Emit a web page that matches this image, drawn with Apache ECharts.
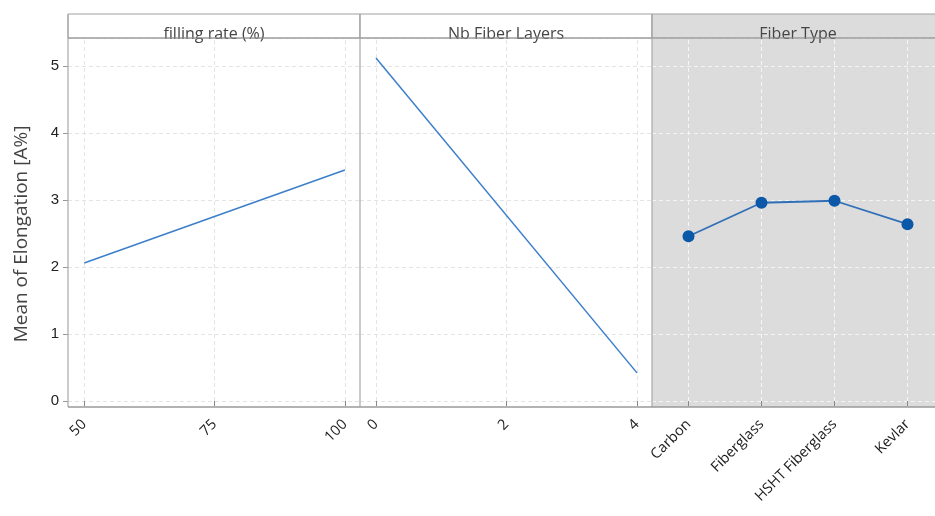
<!DOCTYPE html>
<html><head><meta charset="utf-8">
<script src="https://cdn.jsdelivr.net/npm/echarts@6/dist/echarts.min.js"></script>
<style>html,body{margin:0;padding:0;background:#fff}#c{width:935px;height:516px}</style>
</head><body><div id="c"></div>
<script>
const panelTitles = ['filling rate (%)', 'Nb Fiber Layers', 'Fiber Type'];
const fillingRate = [50, 100];
const fillingMean = [2.06, 3.45];
const fillingTicks = [50, 75, 100];
const layers = [0, 4];
const layersMean = [5.12, 0.42];
const layerTicks = [0, 2, 4];
const fiberTypes = ['Carbon', 'Fiberglass', 'HSHT Fiberglass', 'Kevlar'];
const fiberMean = [2.46, 2.96, 2.99, 2.64];
const yTitle = 'Mean of Elongation [A%]';

const fiberIdx = fiberTypes.map((_, k) => k);

const chart = echarts.init(document.getElementById('c'));
const TOP = 38, AXY = 407, PW = 292;
const lefts = [68, 360, 652];
const font = '"Open Sans","Noto Sans",sans-serif';
const lineColor = '#3c7fc9';
const ptColor = '#0b57a8';

function yAx(i) {
  return {
    type: 'value', gridIndex: i, min: 0, max: 5.42, interval: 1,
    axisLine: {show: false},
    axisTick: {show: i === 0, length: 5, lineStyle: {color: '#999'}},
    axisLabel: {show: i === 0, color: '#222', fontSize: 15, margin: 9, fontFamily: 'Liberation Sans, Arial',
      showMaxLabel: false, formatter: v => Number.isInteger(v) ? String(v) : ''},
    splitLine: {show: true, lineStyle: {color: i === 2 ? '#f4f4f4' : '#e4e4e4', type: [4, 3], width: 1}}
  };
}
const xLabel = {rotate: 45, color: '#1a1a1a', fontSize: 14.5, fontFamily: font, margin: 15};
function xVal(i, min, max, ticks, fmt) {
  return {
    type: 'value', gridIndex: i, min: min, max: max,
    axisLine: {show: false}, offset: 6,
    axisTick: {show: true, length: 5, lineStyle: {color: '#888'}, customValues: ticks},
    axisLabel: Object.assign({customValues: ticks}, xLabel, fmt ? {formatter: fmt} : {}),
    splitLine: {show: false}
  };
}

const grids = [
  {left: lefts[0], top: TOP, width: PW, height: 401 - TOP},
  {left: lefts[1], top: TOP, width: PW, height: 401 - TOP},
  {left: lefts[2], top: TOP, width: 935 - lefts[2], height: 401 - TOP}
];

const graphics = [];
graphics.push({type: 'rect', z: -10, shape: {x: lefts[2], y: TOP, width: 300, height: AXY - TOP}, style: {fill: '#dcdcdc'}});
panelTitles.forEach((t, i) => {
  graphics.push({type: 'rect', z: 5, shape: {x: lefts[i], y: 14, width: PW, height: 24},
    style: {fill: i === 2 ? '#dcdcdc' : '#fff', stroke: '#a0a0a0', lineWidth: 1}});
  graphics.push({type: 'text', z: 6, x: lefts[i] + PW / 2, y: 42,
    style: {text: t, fill: '#444', font: '16px ' + font, textAlign: 'center', textVerticalAlign: 'bottom'}});
});
[68, 360, 652].forEach(x => graphics.push({type: 'line', z: 7, shape: {x1: x, y1: 14, x2: x, y2: AXY}, style: {stroke: '#a8a8a8', lineWidth: 1.2}}));
graphics.push({type: 'line', z: 7, shape: {x1: 68, y1: AXY, x2: 935, y2: AXY}, style: {stroke: '#9a9a9a', lineWidth: 1.5}});
graphics.push({type: 'line', z: 7, shape: {x1: 68, y1: 38, x2: 935, y2: 38}, style: {stroke: '#9a9a9a', lineWidth: 1}});
graphics.push({type: 'text', x: 22, y: 234, rotation: Math.PI / 2,
  style: {text: yTitle, fill: '#444', font: '19px ' + font, textAlign: 'center', textVerticalAlign: 'middle'}});

function gridSeries(i, vals, color) {
  return {type: 'line', xAxisIndex: i, yAxisIndex: i, data: [], z: 1, silent: true,
    markLine: {silent: true, symbol: 'none', label: {show: false}, z: 1,
      lineStyle: {color: color, type: [4, 3], width: 1}, data: vals.map(v => ({xAxis: v}))}};
}

const option = {
  animation: false,
  grid: grids,
  xAxis: [
    xVal(0, 46.9, 102.9, fillingTicks),
    xVal(1, -0.245, 4.23, layerTicks),
    xVal(2, -0.5, -0.5 + (935 - 652) / 73, fiberIdx, v => fiberTypes[Math.round(v)] || '')
  ],
  yAxis: [yAx(0), yAx(1), yAx(2)],
  series: [
    gridSeries(0, fillingTicks, '#e4e4e4'),
    gridSeries(1, layerTicks, '#e4e4e4'),
    gridSeries(2, fiberIdx, '#f6f6f6'),
    {type: 'line', xAxisIndex: 0, yAxisIndex: 0, data: fillingRate.map((x, k) => [x, fillingMean[k]]),
      symbol: 'none', lineStyle: {color: lineColor, width: 1.5}, z: 3},
    {type: 'line', xAxisIndex: 1, yAxisIndex: 1, data: layers.map((x, k) => [x, layersMean[k]]),
      symbol: 'none', lineStyle: {color: lineColor, width: 1.5}, z: 3},
    {type: 'line', xAxisIndex: 2, yAxisIndex: 2, data: fiberIdx.map(k => [k, fiberMean[k]]),
      symbol: 'circle', symbolSize: 12, itemStyle: {color: ptColor}, lineStyle: {color: '#2f6fb8', width: 1.8}, z: 3}
  ],
  graphic: graphics
};
chart.setOption(option);
</script></body></html>
